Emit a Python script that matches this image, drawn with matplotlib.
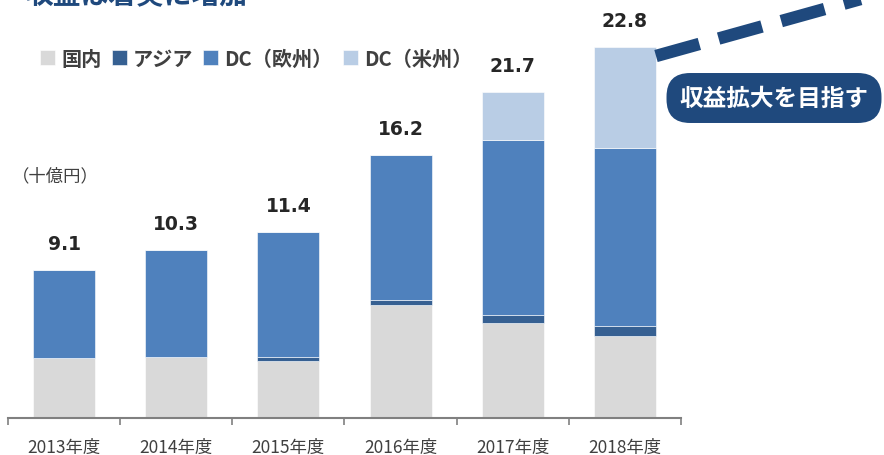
import matplotlib
matplotlib.use("Agg")
import matplotlib.pyplot as plt
import numpy as np

plt.rcParams['font.family'] = ['Noto Sans CJK JP', 'DejaVu Sans']

# data (十億円)
years = ['2013年度', '2014年度', '2015年度', '2016年度', '2017年度', '2018年度']
domestic = [3.68, 3.74, 3.50, 6.93, 5.83, 5.01]
asia = [0.0, 0.0, 0.23, 0.29, 0.47, 0.61]
dc_eu = [5.42, 6.55, 7.69, 8.91, 10.77, 10.94]
dc_us = [0.0, 0.0, 0.0, 0.0, 2.94, 6.21]
totals = ['9.1', '10.3', '11.4', '16.2', '21.7', '22.8']

series_names = ['国内', 'アジア', 'DC（欧州）', 'DC（米州）']
colors = ['#d9d9d9', '#366092', '#4f81bd', '#b9cde5']
navy = '#1f497d'
txt = '#404040'

W, H = 884, 456
fig = plt.figure(figsize=(W / 100, H / 100), dpi=100)
ax = fig.add_axes([8 / W, 37 / H, 673 / W, 407.5 / H])

x = np.arange(len(years))
bottom = np.zeros(len(years))
bars = []
for vals, c, name in zip([domestic, asia, dc_eu, dc_us], colors, series_names):
    b = ax.bar(x, vals, 0.553, bottom=bottom, color=c, label=name,
               edgecolor='white', linewidth=0.4)
    bars.append(b)
    bottom = bottom + np.array(vals)

for xi, top, lab in zip(x, bottom, totals):
    ax.annotate(lab, (xi, top), xytext=(0, 19), textcoords='offset points',
                ha='center', va='center', fontsize=13.5, fontweight='bold',
                family='DejaVu Sans', color='#262626')

ax.set_xlim(-0.5, len(years) - 0.5)
ax.set_ylim(0, 25)
for s in ['top', 'right', 'left']:
    ax.spines[s].set_visible(False)
ax.spines['bottom'].set_color('#808080')
ax.spines['bottom'].set_linewidth(1.5)
ax.set_yticks([])
ax.set_xticks(x)
ax.set_xticklabels(years, fontsize=12.5, color=txt)
ax.tick_params(axis='x', which='major', length=0, pad=14)
ax.set_xticks(np.arange(-0.5, len(years)), minor=True)
ax.tick_params(axis='x', which='minor', length=5, width=1.2, color='#808080',
               direction='out')

leg = ax.legend(handles=bars, ncol=4, frameon=False, loc='center left',
                bbox_to_anchor=(22 / W, 1 - 59 / H), bbox_transform=fig.transFigure,
                prop={'weight': 'bold', 'size': 14.5}, handlelength=0.75,
                handleheight=0.75, handletextpad=0.3, columnspacing=0.5,
                labelcolor=txt)

fig.text(12 / W, 1 - 176 / H, '（十億円）', fontsize=12.5, color=txt,
         ha='left', va='center')

# cut-off headline at the very top
fig.text(25 / W, 1 - 4 / H, '収益は着実に増加', fontsize=20, fontweight='bold',
         color=navy, ha='left', va='baseline')

# dashed trend arrow
fig.add_artist(plt.Line2D([656 / W, 875 / W], [1 - 57 / H, 1 + 4 / H],
                          transform=fig.transFigure, color=navy, linewidth=9,
                          dashes=(3.6, 1.6), solid_capstyle='butt',
                          dash_capstyle='butt'))

fig.text(774 / W, 1 - 99 / H, '収益拡大を目指す', fontsize=17, fontweight='bold',
         color='white', ha='center', va='center',
         bbox=dict(boxstyle='round,pad=0.55,rounding_size=1.0', fc=navy, ec='none'))

fig.savefig('out.png', dpi=100)
